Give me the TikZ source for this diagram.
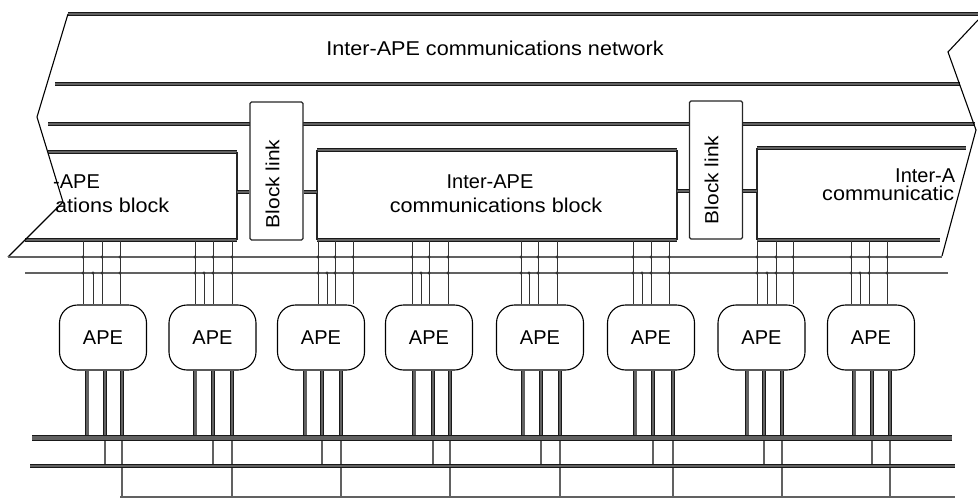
\documentclass[tikz,border=0pt]{standalone}
\usepackage{fontspec}
\setmainfont{Liberation Sans}
\usepackage{graphicx}
\newcommand\xwide[1]{\scalebox{1.08}[1]{#1}}
\begin{document}
\begin{tikzpicture}[x=1pt,y=-1pt,
  band/.style={draw=black!90, line width=0.75pt, double=black!62, double distance=#1},
  band/.default=2.2pt,
  edge/.style={draw=black!85, line width=1.2pt},
  cut/.style={draw=black, line width=1.1pt, line join=miter},
  tap/.style={draw=black!80, line width=0.85pt},
  dot/.style={fill=black!80},
  linkbox/.style={draw=black!85, line width=1.4pt, fill=white, rounded corners=1.5pt,
    minimum width=53pt, minimum height=138pt, inner sep=0pt},
  ape/.style={draw=black, line width=1.1pt, fill=white, rounded corners=18pt,
    minimum width=87pt, minimum height=65pt, inner sep=0pt,
    font=\fontsize{20}{24}\selectfont},
  lbl/.style={inner sep=0pt, font=\fontsize{20}{24}\selectfont},
  lnk/.style={inner sep=0pt, rotate=90, font=\fontsize{19}{22}\selectfont}]
\useasboundingbox (0,0) rectangle (978,498);

% ---- reference heights of the horizontal lines
\coordinate (netbot) at (0,257);
\coordinate (ring)   at (0,273);
\coordinate (blkbot) at (0,241);
\coordinate (bus1)   at (0,438);
\coordinate (bus2)   at (0,466);
\coordinate (bus3)   at (0,497);

% ---- inter-APE communications network (broken at both ends)
\draw[band] (68,14) -- (978,14);
\draw[band] (55,84) -- (960,84);
\draw[band] (48,124) -- (975,124);
\node[lbl, anchor=base] (nettext) at (495,55) {\xwide{Inter-APE communications network}};

% ---- communications blocks
% left block (cut by the break line)
\draw[band=1.7pt] (48,152) -- (237,152);
\draw[band=1.7pt] (25,240) -- (237,240);
\draw[edge] (237,152) -- (237,240);
\node[lbl, anchor=base west] (b1t1) at (53,188) {-APE};
\node[lbl, anchor=base west] (b1t2) at (55,212) {\xwide{ations block}};
% middle block
\coordinate (b2nw) at (317,150);
\coordinate (b2se) at (677,240);
\draw[band=1.7pt] (317,150) -- (677,150);
\draw[band=1.7pt] (317,240) -- (677,240);
\draw[edge] (317,150) -- (317,240);
\draw[edge] (677,150) -- (677,240);
\node[lbl, anchor=base] (b2t1) at (490,188) {Inter-APE};
\node[lbl, anchor=base] (b2t2) at (496,212) {\xwide{communications block}};
% right block (cut by the break line)
\draw[band=1.7pt] (757,148) -- (966,148);
\draw[band=1.7pt] (757,240) -- (940,240);
\draw[edge] (757,148) -- (757,240);
\node[lbl, anchor=base west] (b3t1) at (895,182) {Inter-A};
\node[lbl, anchor=base west] (b3t2) at (822,200) {\xwide{communicatic}};

% ---- block links
\node[linkbox] (bl1) at (276.5,171) {};
\node[linkbox] (bl2) at (716,170) {};
\node[lnk] (bl1t) at (272.5,184) {\scalebox{1.1}[1]{Block link}};
\node[lnk] (bl2t) at (711.5,180) {\scalebox{1.1}[1]{Block link}};
\coordinate (s1) at (237,192);
\coordinate (s2) at (677,191);
\draw[band=1.6pt] (s1) -- (s1 -| bl1.west);
\draw[band=1.6pt] (bl1.east |- s1) -- (b2nw |- s1);
\draw[band=1.6pt] (s2) -- (s2 -| bl2.west);
\draw[band=1.6pt] (bl2.east |- s2) -- (757,191);

% ---- break lines at both ends of the network
\draw[cut] (68,14) -- (37,117) -- (63,202) -- (8,257);
\draw[cut] (978,20) -- (948,52) -- (976,130) -- (942,256);

% ---- array processing elements
\node[ape] (ape1) at (103,337.5) {APE};
\node[ape] (ape2) at (212.5,337.5) {APE};
\node[ape] (ape3) at (321,337.5) {APE};
\node[ape] (ape4) at (429,337.5) {APE};
\node[ape] (ape5) at (540,337.5) {APE};
\node[ape] (ape6) at (651,337.5) {APE};
\node[ape] (ape7) at (761.5,337.5) {APE};
\node[ape] (ape8) at (871,337.5) {APE};

% ---- taps from the blocks and from the ring line into each APE
\foreach \n/\a/\b/\c/\d in {1/83/93/102/120, 2/195/204/213/232, 3/318/327/335/353,
  4/412/421/429/448, 5/521/529/538/557, 6/633/642/651/669,
  7/757/767/776/793, 8/851/860/869/887}{
  \draw[tap] (\a,0 |- blkbot) -- (\a,0 |- ape\n.north);
  \draw[tap] (\b,0 |- ring)   -- (\b,0 |- ape\n.north);
  \draw[tap] (\c,0 |- blkbot) -- (\c,0 |- ape\n.north);
  \draw[tap] (\d,0 |- blkbot) -- (\d,0 |- ape\n.north);
}

% ---- drops from each APE to the three lower buses
\foreach \n/\p/\q/\r in {1/87/105/122, 2/195/213/232, 3/305/322/341, 4/414/433/450,
  5/523/541/560, 6/635/653/673, 7/747/764/782, 8/854/872/890}{
  \draw[band=3pt] (\p,0 |- ape\n.south) -- (\p,0 |- bus1);
  \draw[band=2.6pt] (\q,0 |- ape\n.south) -- (\q,0 |- bus1);
  \draw[band=2.6pt] (\r,0 |- ape\n.south) -- (\r,0 |- bus1);
  \draw[band=1.4pt] (\q,0 |- bus1) -- (\q,0 |- bus2);
  \draw[band=1.4pt] (\r,0 |- bus1) -- (\r,0 |- bus3);
}

% ---- the two lines below the network and the lower buses
\draw[band=1.3pt] (8,0 |- netbot) -- (942,0 |- netbot);
\draw[band=1.3pt] (25,0 |- ring) -- (948,0 |- ring);
\draw[band=4.6pt] (32,0 |- bus1) -- (952,0 |- bus1);
\draw[band=2.6pt] (30,0 |- bus2) -- (955,0 |- bus2);
\draw[band=1.4pt] (120,0 |- bus3) -- (955,0 |- bus3);

% ---- junction dots where the taps cross the lines
\foreach \x in {83,102,120,195,213,232,318,335,353,412,429,448,
  521,538,557,633,651,669,757,776,793,851,869,887}{
  \fill[dot] (\x,0 |- netbot) circle (1.6pt);
  \fill[dot] (\x,0 |- ring) circle (1.6pt);
}
\foreach \x in {93,204,327,421,529,642,767,860}{
  \fill[dot] (\x,0 |- ring) circle (1.6pt);
}
\end{tikzpicture}
\end{document}
